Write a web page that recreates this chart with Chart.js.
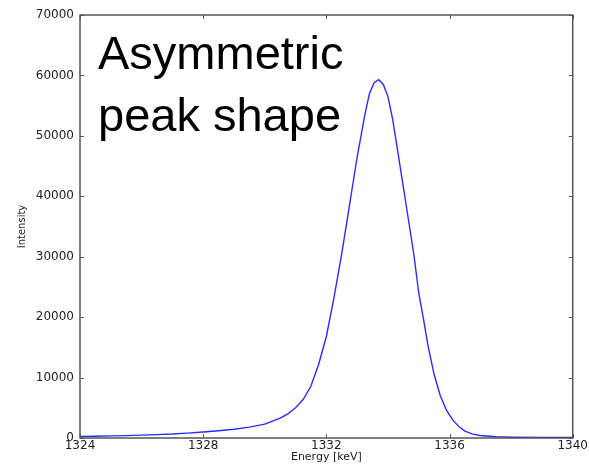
<!DOCTYPE html>
<html>
<head>
    <title>Asymmetric peak</title>
    <script src="https://cdn.jsdelivr.net/npm/chart.js"></script>
    <style>
        html, body { margin: 0; padding: 0; background: #fff; }
        .chart-box { width: 589px; height: 464px; position: relative; }
    </style>
</head>
<body>

<div class="chart-box"><canvas id="grafico"></canvas></div>

<script>
    // energias (keV) y cuentas
    const energias = [
        1324.0, 1324.5, 1325.0, 1325.5, 1326.0, 1326.5, 1327.0, 1327.5, 1328.0, 1328.5,
        1329.0, 1329.5, 1330.0, 1330.5, 1330.75, 1331.0, 1331.25, 1331.5, 1331.75, 1332.0,
        1332.25, 1332.5, 1332.75, 1333.0, 1333.25, 1333.4, 1333.55, 1333.7, 1333.85, 1334.0,
        1334.15, 1334.3, 1334.5, 1334.7, 1334.85, 1335.0, 1335.15, 1335.3, 1335.5, 1335.7,
        1335.9, 1336.1, 1336.3, 1336.5, 1336.75, 1337.0, 1337.5, 1338.0, 1339.0, 1340.0
    ];
    const cuentas = [
        250, 300, 350, 400, 480, 560, 650, 800, 1000, 1200,
        1450, 1800, 2300, 3300, 4000, 5000, 6400, 8600, 12200, 16800,
        23300, 30500, 38500, 46500, 53500, 57000, 58800, 59300, 58500, 56500,
        52800, 48000, 41500, 35000, 30000, 24000, 19800, 15300, 10500, 7000,
        4600, 3000, 1900, 1150, 650, 420, 200, 130, 100, 100
    ];
    const ticksX = [1324, 1328, 1332, 1336, 1340];
    const ticksY = [0, 10000, 20000, 30000, 40000, 50000, 60000, 70000];
    const anotacion = ['Asymmetric', 'peak shape'];

    const puntos = energias.map((e, i) => ({ x: e, y: cuentas[i] }));

    // marco y marcas hacia adentro (estilo matplotlib)
    const marco = {
        id: 'marco',
        afterDatasetsDraw(chart) {
            const { ctx, chartArea: a, scales } = chart;
            ctx.save();
            ctx.strokeStyle = '#555';
            ctx.lineWidth = 1;
            ctx.beginPath();
            for (const v of ticksX) {
                const px = Math.round(scales.x.getPixelForValue(v)) + 0.5;
                ctx.moveTo(px, a.bottom); ctx.lineTo(px, a.bottom - 4);
                ctx.moveTo(px, a.top); ctx.lineTo(px, a.top + 4);
            }
            for (const v of ticksY) {
                const py = Math.round(scales.y.getPixelForValue(v)) + 0.5;
                ctx.moveTo(a.left, py); ctx.lineTo(a.left + 4, py);
                ctx.moveTo(a.right, py); ctx.lineTo(a.right - 4, py);
            }
            ctx.stroke();
            ctx.lineWidth = 1.5;
            ctx.strokeRect(a.left, a.top, a.right - a.left, a.bottom - a.top);

            ctx.fillStyle = '#000';
            ctx.font = '47px "Liberation Sans", Arial, sans-serif';
            ctx.textBaseline = 'alphabetic';
            ctx.fillText(anotacion[0], a.left + 18, 69);
            ctx.fillText(anotacion[1], a.left + 18, 131);
            ctx.restore();
        }
    };

    new Chart(document.getElementById('grafico'), {
        type: 'line',
        data: {
            datasets: [{
                data: puntos,
                borderColor: 'rgba(20, 20, 255, 0.9)',
                borderWidth: 1.4,
                pointRadius: 0,
                tension: 0,
                fill: false
            }]
        },
        options: {
            responsive: true,
            maintainAspectRatio: false,
            animation: false,
            layout: { padding: { top: 15, right: 16, left: 0, bottom: 0 } },
            plugins: {
                legend: { display: false },
                tooltip: { enabled: false }
            },
            scales: {
                x: {
                    type: 'linear',
                    min: 1324,
                    max: 1340,
                    afterBuildTicks: s => { s.ticks = ticksX.map(v => ({ value: v })); },
                    afterFit: s => { s.height = 26; },
                    grid: { display: false, drawTicks: false },
                    border: { display: false },
                    ticks: {
                        padding: 1,
                        color: '#222',
                        font: { family: 'DejaVu Sans', size: 12 },
                        callback: v => String(v)
                    },
                    title: {
                        display: true,
                        text: 'Energy [keV]',
                        color: '#222',
                        padding: { top: 0, bottom: 0 },
                        font: { family: 'DejaVu Sans', size: 11 }
                    }
                },
                y: {
                    min: 0,
                    max: 70000,
                    afterBuildTicks: s => { s.ticks = ticksY.map(v => ({ value: v })); },
                    afterFit: s => { s.width = 80; },
                    grid: { display: false, drawTicks: false },
                    border: { display: false },
                    ticks: {
                        padding: 6,
                        color: '#222',
                        font: { family: 'DejaVu Sans', size: 12 },
                        callback: v => String(v)
                    },
                    title: {
                        display: true,
                        text: 'Intensity',
                        color: '#222',
                        padding: { top: 16, bottom: 0 },
                        font: { family: 'DejaVu Sans', size: 10 }
                    }
                }
            }
        },
        plugins: [marco]
    });
</script>

</body>
</html>
